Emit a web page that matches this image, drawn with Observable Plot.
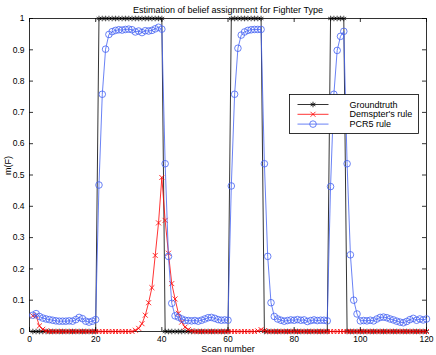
<!DOCTYPE html>
<html><head><meta charset="utf-8">
<script src="https://cdn.jsdelivr.net/npm/d3@7"></script>
<script src="https://cdn.jsdelivr.net/npm/@observablehq/plot@0.6"></script>
<style>body{margin:0;background:#fff}#chart{width:436px;height:355px}</style>
</head><body><div id="chart"></div>
<script>
const scans = d3.range(1, 121);
const groundtruth = [
 0,0,0,0,0,0,0,0,0,0, 0,0,0,0,0,0,0,0,0,0,
 1,1,1,1,1,1,1,1,1,1, 1,1,1,1,1,1,1,1,1,1,
 0,0,0,0,0,0,0,0,0,0, 0,0,0,0,0,0,0,0,0,0,
 1,1,1,1,1,1,1,1,1,1,
 0,0,0,0,0,0,0,0,0,0, 0,0,0,0,0,0,0,0,0,0,
 1,1,1,1,1,
 0,0,0,0,0, 0,0,0,0,0, 0,0,0,0,0, 0,0,0,0,0, 0,0,0,0,0
];
const dempster = [
 0.05,0.05,0.018,0.007,0.002,0,0,0,0,0, 0,0,0,0,0,0,0,0,0,0,
 0,0,0,0,0,0,0,0,0,0, 0,0.004,0.01,0.025,0.052,0.092,0.14,0.243,0.347,0.492,
 0.355,0.25,0.153,0.104,0.058,0.03,0.014,0.006,0.002,0, 0,0,0,0,0,0,0,0,0,0,
 0,0,0,0,0,0,0,0,0.002,0.006,
 0.003,0,0,0,0,0,0,0,0,0, 0,0,0,0,0,0,0,0,0,0,
 0,0,0,0,0,
 0,0,0,0,0, 0,0,0,0,0, 0,0,0,0,0, 0,0,0,0,0, 0,0,0,0,0
];
const pcr5 = [
 0.052,0.057,0.048,0.043,0.040,0.038,0.036,0.034,0.033,0.033, 0.033,0.034,0.033,0.038,0.045,0.041,0.033,0.030,0.033,0.038,
 0.468,0.758,0.902,0.949,0.958,0.962,0.964,0.963,0.965,0.966, 0.964,0.957,0.960,0.955,0.961,0.960,0.962,0.967,0.972,0.966,
 0.536,0.240,0.090,0.050,0.046,0.040,0.036,0.035,0.034,0.035, 0.033,0.036,0.040,0.044,0.045,0.042,0.038,0.036,0.037,0.036,
 0.465,0.758,0.905,0.947,0.957,0.962,0.964,0.965,0.965,0.965,
 0.536,0.240,0.092,0.048,0.040,0.036,0.033,0.035,0.037,0.036, 0.038,0.036,0.037,0.032,0.035,0.037,0.035,0.036,0.036,0.034,
 0.463,0.758,0.898,0.943,0.959,
 0.536,0.245,0.100,0.056,0.034, 0.035,0.034,0.036,0.034,0.040, 0.045,0.046,0.044,0.040,0.037, 0.033,0.030,0.028,0.032,0.038, 0.042,0.036,0.040,0.037,0.040
];
const xTicks = [0, 20, 40, 60, 80, 100, 120];
const yTicks = [0, 0.1, 0.2, 0.3, 0.4, 0.5, 0.6, 0.7, 0.8, 0.9, 1];
const yTickLabels = ["0","0.1","0.2","0.3","0.4","0.5","0.6","0.7","0.8","0.9","1"];
const seriesNames = ["Groundtruth", "Demspter's rule", "PCR5 rule"];
const titleText = "Estimation of belief assignment for Fighter Type";
const xLabel = "Scan number";
const yLabel = "m(F)";

const W = 436, H = 355, mL = 29, mR = 10, mT = 18, mB = 24;
const fw = W - mL - mR, fh = H - mT - mB;
const FONT = "'Liberation Sans', Arial, Helvetica, sans-serif";
const BLUE = "#4462f2", RED = "#ff0000", BLACK = "#000000";

const rows = scans.map((s, i) => ({scan: s, gt: groundtruth[i], ds: dempster[i], pcr: pcr5[i]}));

const svg = Plot.plot({
  width: W, height: H,
  marginLeft: mL, marginRight: mR, marginTop: mT, marginBottom: mB,
  style: {fontFamily: FONT, fontSize: "8.5px", background: "white", color: "black", overflow: "visible"},
  x: {domain: [0, 120]},
  y: {domain: [0, 1]},
  marks: [
    Plot.frame({stroke: BLACK, strokeWidth: 0.8}),
    Plot.axisX(xTicks, {tickSize: 0, tickPadding: 4, label: null, fontSize: 8.5}),
    Plot.axisY(yTicks, {tickSize: 0, tickPadding: 5, label: null, fontSize: 8.5,
      tickFormat: d => yTickLabels[yTicks.indexOf(d)]}),
    Plot.tickX(xTicks, {x: d => d, insetTop: fh - 4, stroke: BLACK, strokeWidth: 0.8}),
    Plot.tickX(xTicks, {x: d => d, insetBottom: fh - 4, stroke: BLACK, strokeWidth: 0.8}),
    Plot.tickY(yTicks, {y: d => d, insetRight: fw - 4, stroke: BLACK, strokeWidth: 0.8}),
    Plot.tickY(yTicks, {y: d => d, insetLeft: fw - 4, stroke: BLACK, strokeWidth: 0.8}),
    // Groundtruth
    Plot.line(rows, {x: "scan", y: "gt", stroke: BLACK, strokeWidth: 0.8}),
    Plot.dot(rows, {x: "scan", y: "gt", symbol: "asterisk", r: 2.6, stroke: BLACK, strokeWidth: 0.7}),
    // Dempster
    Plot.line(rows, {x: "scan", y: "ds", stroke: RED, strokeWidth: 0.8}),
    Plot.dot(rows, {x: "scan", y: "ds", symbol: "times", r: 2.4, stroke: RED, strokeWidth: 0.8}),
    // PCR5
    Plot.line(rows, {x: "scan", y: "pcr", stroke: BLUE, strokeWidth: 0.8}),
    Plot.dot(rows, {x: "scan", y: "pcr", symbol: "circle", r: 3.3, fill: "none", stroke: BLUE, strokeWidth: 0.8}),
    // texts
    Plot.text([titleText], {frameAnchor: "top", dy: -12, fontSize: 9, text: d => d}),
    Plot.text([xLabel], {frameAnchor: "bottom", dy: 20, fontSize: 9, text: d => d}),
    Plot.text([yLabel], {frameAnchor: "left", dx: -21, rotate: -90, fontSize: 9, text: d => d})
  ]
});

// Legend box (inside plot area, top-right)
const lg = d3.select(svg).append("g").attr("font-family", FONT).attr("font-size", 9)
  .attr("text-anchor", "start");
const LX = 289.5, LY = 94.5, LW = 129, LH = 39;
lg.append("rect").attr("x", LX).attr("y", LY).attr("width", LW).attr("height", LH)
  .attr("fill", "white").attr("stroke", BLACK).attr("stroke-width", 0.8);
const colors = [BLACK, RED, BLUE];
const syms = [d3.symbolAsterisk, d3.symbolTimes, d3.symbolCircle];
const symR = [2.6, 2.4, 3.3];
seriesNames.forEach((name, i) => {
  const cy = LY + 10 + i * 9.8;
  lg.append("line").attr("x1", LX + 8).attr("x2", LX + 39).attr("y1", cy).attr("y2", cy)
    .attr("stroke", colors[i]).attr("stroke-width", 0.8);
  lg.append("path").attr("d", d3.symbol(syms[i], Math.PI * symR[i] * symR[i])())
    .attr("transform", `translate(${LX + 23.5},${cy})`)
    .attr("fill", "none").attr("stroke", colors[i]).attr("stroke-width", 0.8);
  lg.append("text").attr("x", LX + 60).attr("y", cy).attr("dy", "0.35em")
    .attr("text-anchor", "start").text(name);
});

document.getElementById("chart").appendChild(svg);
</script>
</body></html>
